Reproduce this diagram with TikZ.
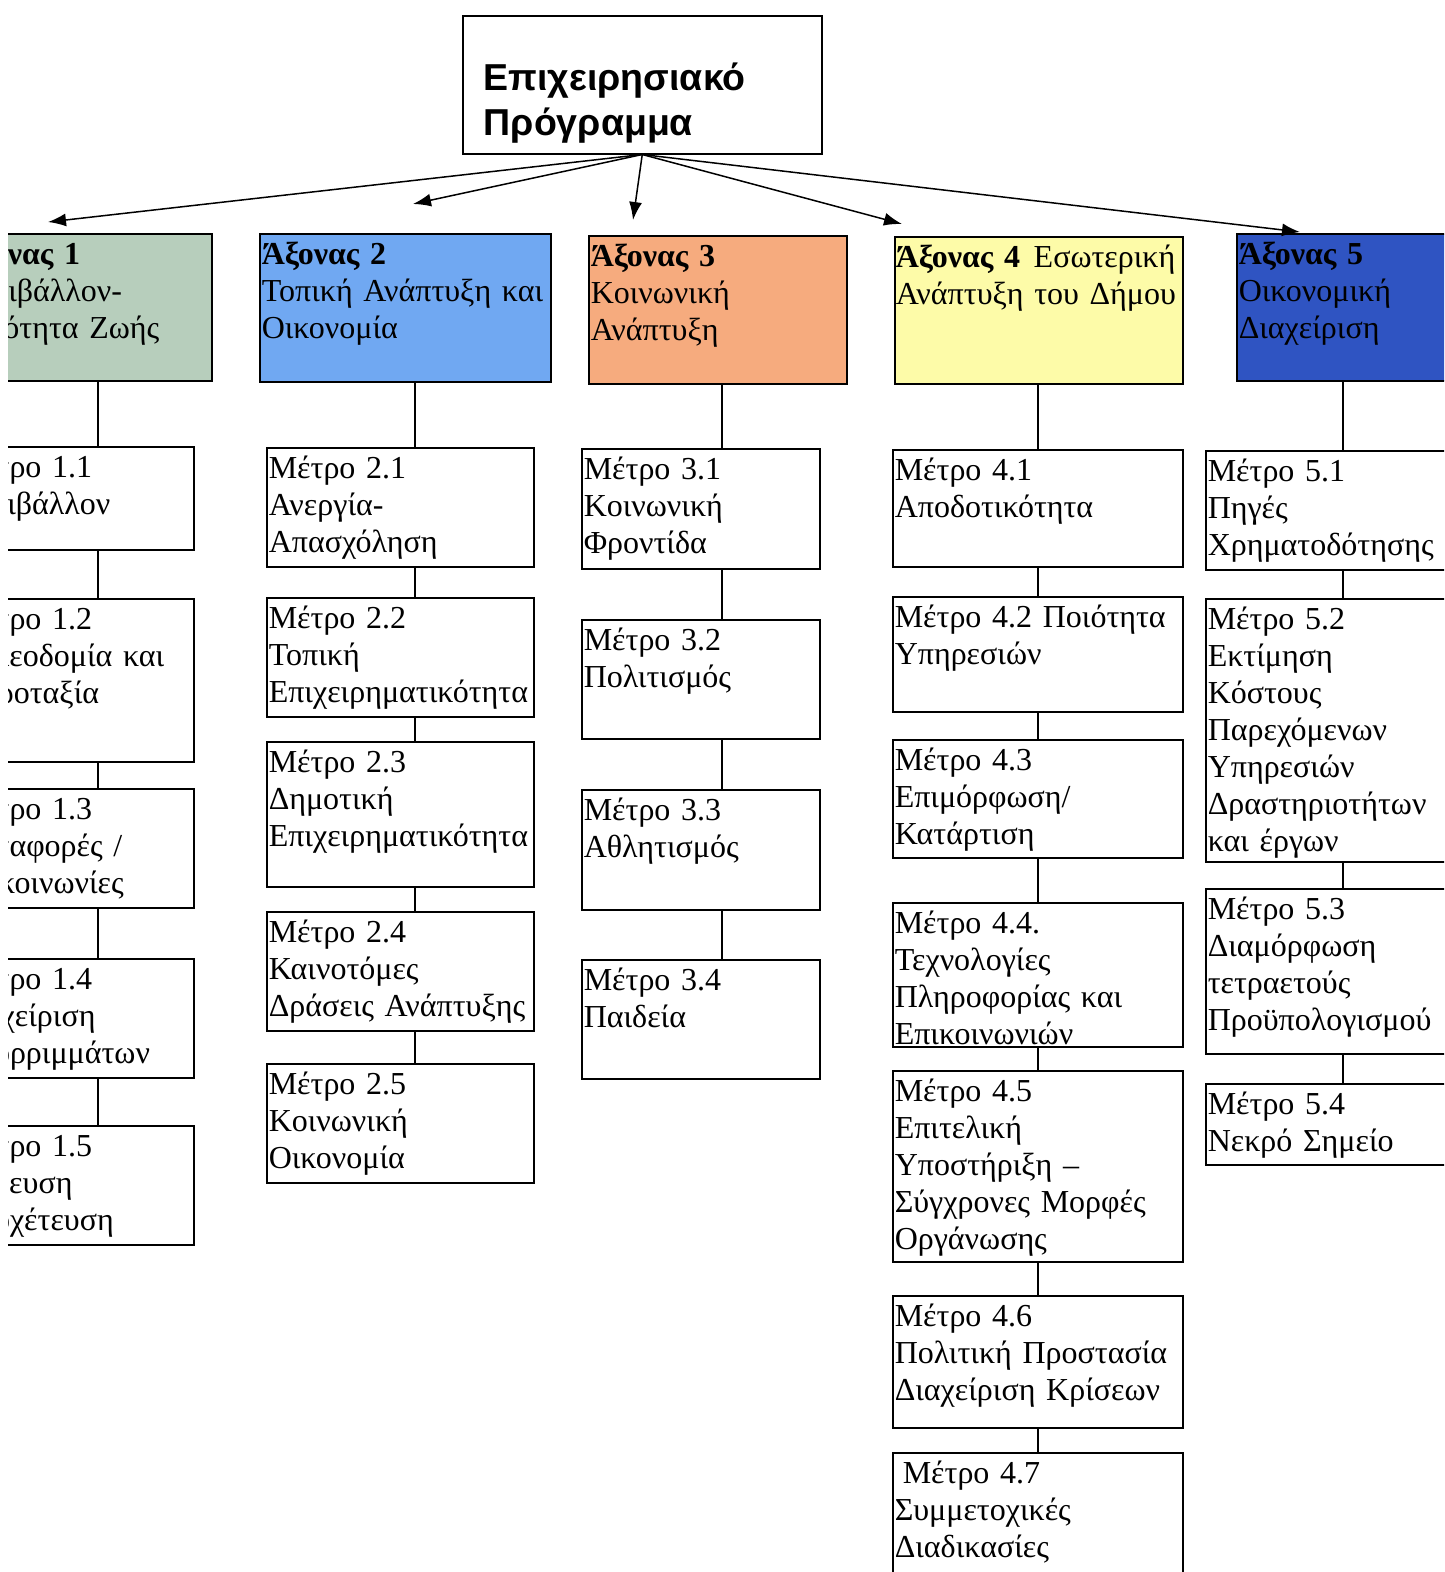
\documentclass[tikz,border=0pt]{standalone}
\usepackage{fontspec}
\setmainfont{Liberation Serif}
\newfontfamily\titlefont{Liberation Sans}
\usepackage{tikz}
\usetikzlibrary{arrows.meta}
\usepackage{xcolor}
\definecolor{axisone}{HTML}{B7CEBC}
\definecolor{axistwo}{HTML}{70A8F2}
\definecolor{axisthree}{HTML}{F6AB7E}
\definecolor{axisfour}{HTML}{FDFBA8}
\definecolor{axisfive}{HTML}{2F54C2}

\begin{document}
\begin{tikzpicture}[x=1pt, y=-1pt,
  box/.style={draw, line width=1.5pt, anchor=north west, align=left,
    inner xsep=2pt, inner ysep=5pt, text height=26pt,
    font=\fontsize{32}{37}\selectfont},
  link/.style={line width=1.5pt},
  arrow/.style={line width=1.5pt, -{Latex[length=18pt,width=13pt]}}]
  \useasboundingbox (0,0) rectangle (1444,1572);
  \clip (8,0) rectangle (1444,1572);
  % Top
  \node[box, text width=317pt, inner xsep=21pt, text height=70pt, text depth=58pt,
    font=\titlefont\bfseries\fontsize{37.5}{45}\selectfont] (prog) at (462,15)
    {Επιχειρησιακό\\Πρόγραμμα};
  % Axes
  \node[box, fill=axisone, text width=254pt, text depth=111pt] (ax1) at (-47,233)
    {\textbf{Άξονας 1}\\Περιβάλλον-\\Ποιότητα Ζωής};
  \node[box, fill=axistwo, text width=287pt, text depth=112pt] (ax2) at (259,233)
    {\textbf{Άξονας 2}\\Τοπική Ανάπτυξη και\\Οικονομία};
  \node[box, fill=axisthree, text width=254pt, text depth=112pt] (ax3) at (588,235)
    {\textbf{Άξονας 3}\\Κοινωνική\\Ανάπτυξη};
  \node[box, fill=axisfour, text width=286pt, inner xsep=1pt, text depth=111pt] (ax4) at (894,236)
    {\mbox{\textbf{Άξονας 4}\ \hspace{3pt}Εσωτερική}\\Ανάπτυξη του Δήμου};
  \node[box, fill=axisfive, text width=236pt, text depth=111pt] (ax5) at (1236,233)
    {\textbf{Άξονας 5}\\Οικονομική\\Διαχείριση};
  % Measures, axis 1
  \node[box, text width=237pt, text depth=67pt] (m11) at (-48,446) {Μέτρο 1.1\\Περιβάλλον};
  \node[box, text width=237pt, text depth=127pt] (m12) at (-48,598) {Μέτρο 1.2\\Πολεοδομία και\\Χωροταξία};
  \node[box, text width=237pt, text depth=83pt] (m13) at (-48,788) {Μέτρο 1.3\\Μεταφορές /\\Επικοινωνίες};
  \node[box, text width=237pt, text depth=83pt] (m14) at (-48,958) {Μέτρο 1.4\\Διαχείριση\\Απορριμμάτων};
  \node[box, text width=237pt, text depth=83pt] (m15) at (-48,1125) {Μέτρο 1.5\\Ύδρευση\\Αποχέτευση};
  % Measures, axis 2
  \node[box, text width=263pt, text depth=83pt] (m21) at (266,447) {Μέτρο 2.1\\Ανεργία-\\Απασχόληση};
  \node[box, text width=263pt, text depth=83pt] (m22) at (266,597) {Μέτρο 2.2\\Τοπική\\Επιχειρηματικότητα};
  \node[box, text width=263pt, text depth=109pt] (m23) at (266,741) {Μέτρο 2.3\\Δημοτική\\Επιχειρηματικότητα};
  \node[box, text width=263pt, text depth=83pt] (m24) at (266,911) {Μέτρο 2.4\\Καινοτόμες\\Δράσεις Ανάπτυξης};
  \node[box, text width=263pt, text depth=83pt] (m25) at (266,1063) {Μέτρο 2.5\\Κοινωνική\\Οικονομία};
  % Measures, axis 3
  \node[box, text width=234pt, text depth=84pt] (m31) at (581,448) {Μέτρο 3.1\\Κοινωνική\\Φροντίδα};
  \node[box, text width=234pt, text depth=83pt] (m32) at (581,619) {Μέτρο 3.2\\Πολιτισμός};
  \node[box, text width=234pt, text depth=84pt] (m33) at (581,789) {Μέτρο 3.3\\Αθλητισμός};
  \node[box, text width=234pt, text depth=83pt] (m34) at (581,959) {Μέτρο 3.4\\Παιδεία};
  % Measures, axis 4
  \node[box, text width=286pt, text depth=81pt] (m41) at (892,449) {Μέτρο 4.1\\Αποδοτικότητα};
  \node[box, text width=286pt, text depth=79pt] (m42) at (892,596) {Μέτρο 4.2 Ποιότητα\\Υπηρεσιών};
  \node[box, text width=286pt, text depth=82pt] (m43) at (892,739) {Μέτρο 4.3\\Επιμόρφωση/\\Κατάρτιση};
  \node[box, text width=286pt, text depth=108pt] (m44) at (892,902) {Μέτρο 4.4.\\Τεχνολογίες\\Πληροφορίας και\\Επικοινωνιών};
  \node[box, text width=286pt, text depth=155pt] (m45) at (892,1070) {Μέτρο 4.5\\Επιτελική\\Υποστήριξη --\\Σύγχρονες Μορφές\\Οργάνωσης};
  \node[box, text width=286pt, text depth=96pt] (m46) at (892,1295) {Μέτρο 4.6\\Πολιτική Προστασία\\Διαχείριση Κρίσεων};
  \node[box, text width=286pt, text depth=124pt] (m47) at (892,1452) {\hspace*{8pt}Μέτρο 4.7\\Συμμετοχικές\\Διαδικασίες};
  % Measures, axis 5
  \node[box, text width=266pt, text depth=83pt] (m51) at (1205,450) {Μέτρο 5.1\\Πηγές\\Χρηματοδότησης};
  \node[box, text width=266pt, text depth=227pt] (m52) at (1205,598) {Μέτρο 5.2\\Εκτίμηση\\Κόστους\\Παρεχόμενων\\Υπηρεσιών\\Δραστηριοτήτων\\και έργων};
  \node[box, text width=266pt, text depth=129pt] (m53) at (1205,888) {Μέτρο 5.3\\Διαμόρφωση\\τετραετούς\\Προϋπολογισμού};
  \node[box, text width=266pt, text depth=45pt] (m54) at (1205,1083) {Μέτρο 5.4\\Νεκρό Σημείο};
  %
  % Arrows from the programme
  \coordinate (a1) at (48,222);
  \coordinate (a2) at (413,204);
  \coordinate (a3) at (633,220);
  \coordinate (a4) at (902,224);
  \coordinate (a5) at (1300,232);
  \draw[arrow] (prog.south) -- (a1);
  \draw[arrow] (prog.south) -- (a2);
  \draw[arrow] (prog.south) -- (a3);
  \draw[arrow] (prog.south) -- (a4);
  \draw[arrow] (prog.south) -- (a5);
  %
  % Column lines
  \coordinate (c1) at (98,0);
  \coordinate (c2) at (415,0);
  \coordinate (c3) at (722,0);
  \coordinate (c4) at (1038,0);
  \coordinate (c5) at (1343,0);
  \draw[link] (ax1.south -| c1) -- (m11.north -| c1);
  \draw[link] (m11.south -| c1) -- (m12.north -| c1);
  \draw[link] (m12.south -| c1) -- (m13.north -| c1);
  \draw[link] (m13.south -| c1) -- (m14.north -| c1);
  \draw[link] (m14.south -| c1) -- (m15.north -| c1);
  \draw[link] (ax2.south -| c2) -- (m21.north -| c2);
  \draw[link] (m21.south -| c2) -- (m22.north -| c2);
  \draw[link] (m22.south -| c2) -- (m23.north -| c2);
  \draw[link] (m23.south -| c2) -- (m24.north -| c2);
  \draw[link] (m24.south -| c2) -- (m25.north -| c2);
  \draw[link] (ax3.south -| c3) -- (m31.north -| c3);
  \draw[link] (m31.south -| c3) -- (m32.north -| c3);
  \draw[link] (m32.south -| c3) -- (m33.north -| c3);
  \draw[link] (m33.south -| c3) -- (m34.north -| c3);
  \draw[link] (ax4.south -| c4) -- (m41.north -| c4);
  \draw[link] (m41.south -| c4) -- (m42.north -| c4);
  \draw[link] (m42.south -| c4) -- (m43.north -| c4);
  \draw[link] (m43.south -| c4) -- (m44.north -| c4);
  \draw[link] (m44.south -| c4) -- (m45.north -| c4);
  \draw[link] (m45.south -| c4) -- (m46.north -| c4);
  \draw[link] (m46.south -| c4) -- (m47.north -| c4);
  \draw[link] (ax5.south -| c5) -- (m51.north -| c5);
  \draw[link] (m51.south -| c5) -- (m52.north -| c5);
  \draw[link] (m52.south -| c5) -- (m53.north -| c5);
  \draw[link] (m53.south -| c5) -- (m54.north -| c5);
\end{tikzpicture}
\end{document}
